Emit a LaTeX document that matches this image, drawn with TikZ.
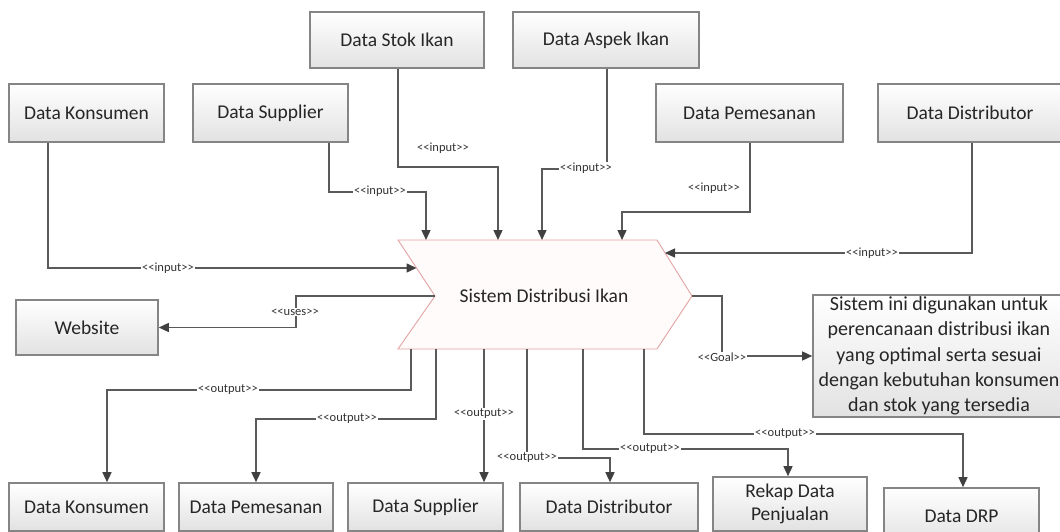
\documentclass[tikz,border=0pt]{standalone}
\usepackage{fontspec}
\setmainfont{Carlito}
\usetikzlibrary{arrows.meta}
\newcommand{\stt}[1]{{<}{<}#1{>}{>}}
\definecolor{boxborder}{HTML}{858585}
\definecolor{boxbot}{HTML}{E2E2E2}
\definecolor{linecol}{HTML}{5A5A5A}
\definecolor{chevborder}{HTML}{E3A3A3}
\definecolor{chevfill}{HTML}{FFFBFB}
\definecolor{labcol}{HTML}{333333}
\begin{document}
\begin{tikzpicture}[x=1pt,y=-1pt,
  box/.style={draw=boxborder,line width=1.6pt,top color=white,bottom color=boxbot,
    font=\fontsize{19.5}{24}\selectfont,inner sep=0pt,align=center,text=black!85},
  conn/.style={draw=linecol,line width=1.4pt,-{Triangle[length=10pt,width=9pt,color=black!75]}},
  lab/.style={font=\fontsize{12.5}{14}\selectfont,fill=white,inner sep=1pt,text=labcol},
  labnf/.style={font=\fontsize{12.5}{14}\selectfont,inner sep=1pt,text=labcol},
  chev/.style={draw=chevborder,line width=0.9pt,fill=chevfill}]
\useasboundingbox (0,0) rectangle (1060,532);
\clip (0,0) rectangle (1060,532);
\fill[white] (0,0) rectangle (1060,532);

% top boxes
\node[box,minimum width=174pt,minimum height=56pt] (tstok) at (397,40) {Data Stok Ikan};
\node[box,minimum width=186pt,minimum height=56pt] (taspek) at (606,40) {Data Aspek Ikan};
\node[box,minimum width=155pt,minimum height=58pt] (tkons) at (86.5,113) {Data Konsumen};
\node[box,minimum width=155pt,minimum height=58pt] (tsupp) at (270.5,113) {Data Supplier};
\node[box,minimum width=187pt,minimum height=58pt] (tpem) at (749.5,113) {Data Pemesanan};
\node[box,minimum width=184pt,minimum height=58pt] (tdist) at (970,113) {Data Distributor};

% side boxes
\node[box,minimum width=142pt,minimum height=55pt] (web) at (87,327.5) {Website};
\node[box,minimum width=252pt,minimum height=122pt,font=\fontsize{20}{25.3}\selectfont] (goal) at (939,356)
  {Sistem ini digunakan untuk\\perencanaan distribusi ikan\\yang optimal serta sesuai\\dengan kebutuhan konsumen\\dan stok yang tersedia};

% bottom boxes
\node[box,minimum width=155pt,minimum height=48pt] (bkons) at (86.5,507) {Data Konsumen};
\node[box,minimum width=154pt,minimum height=48pt] (bpem) at (256,507) {Data Pemesanan};
\node[box,minimum width=155pt,minimum height=48pt] (bsupp) at (425.5,507) {Data Supplier};
\node[box,minimum width=178pt,minimum height=48pt] (bdist) at (609,507) {Data Distributor};
\node[box,minimum width=154pt,minimum height=54pt,font=\fontsize{19.5}{23}\selectfont] (brekap) at (790,504) {Rekap Data\\Penjualan};
\node[box,minimum width=155pt,minimum height=56pt] (bdrp) at (961.5,516) {Data DRP};

% central chevron
\draw[chev] (398,240) -- (657,240) -- (692,296) -- (657,349) -- (398,349) -- (435,296) -- cycle;
\node[font=\fontsize{19.5}{24}\selectfont,text=black!85] (sys) at (544,296) {Sistem Distribusi Ikan};

% attach points on the chevron
\coordinate (in1) at (416.5,268);
\coordinate (in2) at (426,240);
\coordinate (in3) at (498,240);
\coordinate (in4) at (542,240);
\coordinate (in5) at (622,240);
\coordinate (in6) at (665,253);
\coordinate (notch) at (435,296);
\coordinate (tip) at (692,296);
\coordinate (o1) at (411,349);
\coordinate (o2) at (436,349);
\coordinate (o3) at (484,349);
\coordinate (o4) at (527,349);
\coordinate (o5) at (583,349);
\coordinate (o6) at (644,349);

% inputs
\draw[conn] ([xshift=-38.5pt]tkons.south) |- (in1);
\draw[conn] ([xshift=58.5pt]tsupp.south) -- ++(0,49) -| (in2);
\draw[conn] ([xshift=1pt]tstok.south) -- ++(0,98) -| (in3);
\draw[conn] ([xshift=1pt]taspek.south) -- ++(0,100) -| (in4);
\draw[conn] ([xshift=0.5pt]tpem.south) -- ++(0,69) -| (in5);
\draw[conn] ([xshift=2pt]tdist.south) |- (in6);

\node[lab] (l1) at (168,268) {\stt{input}};
\node[lab] (l2) at (380,191) {\stt{input}};
\node[labnf] (l3) at (443,148) {\stt{input}};
\node[lab] (l4) at (586,168) {\stt{input}};
\node[labnf] (l5) at (714,188) {\stt{input}};
\node[lab] (l6) at (872,253) {\stt{input}};

% uses and goal
\draw[conn] (notch) -- ++(-139,0) |- (web.east);
\node[lab] (l7) at (295,312) {\stt{uses}};
\draw[conn] (tip) -- ++(30,0) |- (goal.west);
\node[lab] (l8) at (722,357) {\stt{Goal}};

% outputs
\draw[conn] (o1) -- ++(0,41) -| ([xshift=20.5pt]bkons.north);
\draw[conn] (o2) -- ++(0,70) -| (bpem.north);
\draw[conn] (o3) -- ([xshift=58.5pt]bsupp.north);
\draw[conn] (o4) -- ++(0,109) -| ([xshift=1pt]bdist.north);
\draw[conn] (o5) -- ++(0,100) -| ([xshift=-2pt]brekap.north);
\draw[conn] (o6) -- ++(0,85) -| ([xshift=1.5pt]bdrp.north);

\node[lab] (l9) at (228,390) {\stt{output}};
\node[lab] (l10) at (347,419) {\stt{output}};
\node[lab] (l11) at (484,414) {\stt{output}};
\node[lab] (l12) at (527,458) {\stt{output}};
\node[lab] (l13) at (650,449) {\stt{output}};
\node[lab] (l14) at (785,434) {\stt{output}};
\end{tikzpicture}
\end{document}
